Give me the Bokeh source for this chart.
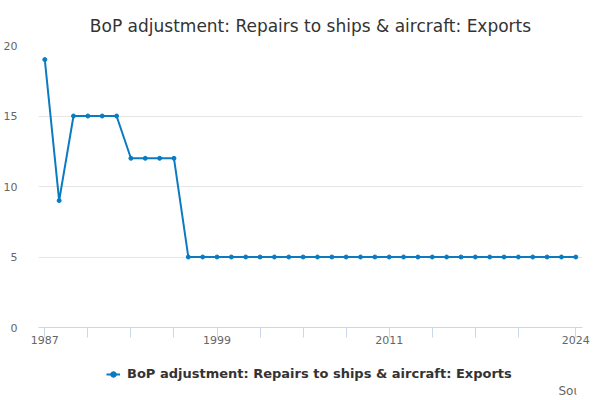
from bokeh.plotting import figure
from bokeh.models import FixedTicker, Legend, LegendItem, Range1d, Title, Label
from bokeh.layouts import column
from bokeh.embed import file_html
from bokeh.resources import INLINE

years = list(range(1987, 2025))
values = [19, 9, 15, 15, 15, 15, 12, 12, 12, 12] + [5] * 28
series_name = "BoP adjustment: Repairs to ships & aircraft: Exports"
x_ticks = [1987, 1990, 1993, 1996, 1999, 2002, 2005, 2008, 2011, 2014, 2017, 2020, 2024]
x_labels = {1987: "1987", 1999: "1999", 2011: "2011", 2024: "2024"}
y_ticks = [0, 5, 10, 15, 20]
source_text = "Source:"

FONT = "DejaVu Sans"
COLOR = "#0a7bc1"

p = figure(frame_width=544, frame_height=282, output_backend="svg", toolbar_location=None,
           x_range=Range1d(1986.561, 2024.467), y_range=Range1d(0, 20),
           min_border_left=32, min_border_right=8, min_border_top=45, min_border_bottom=25)
p.outline_line_color = None
p.background_fill_color = "white"
p.border_fill_color = "white"

p.title = Title(text=series_name, align="center", vertical_align="top",
                text_font=FONT, text_font_size="17px", text_font_style="normal",
                text_color="#333333", offset=-9, standoff=16)

r_line = p.line(years, values, line_color=COLOR, line_width=2)
r_pts = p.scatter(years, values, size=4, fill_color=COLOR, line_color=COLOR)

xa = p.xaxis[0]
xa.ticker = FixedTicker(ticks=x_ticks)
xa.major_label_overrides = {t: x_labels.get(t, "") for t in x_ticks}
xa.axis_line_color = "#ccd6eb"
xa.major_tick_line_color = "#ccd6eb"
xa.major_tick_out = 10
xa.major_tick_in = 0
xa.minor_tick_line_color = None
xa.major_label_standoff = -2
xa.major_label_text_font = FONT
xa.major_label_text_font_size = "11px"
xa.major_label_text_color = "#666666"

ya = p.yaxis[0]
ya.ticker = FixedTicker(ticks=y_ticks)
ya.axis_line_color = None
ya.major_tick_line_color = None
ya.minor_tick_line_color = None
ya.major_label_standoff = 15
ya.major_label_text_font = FONT
ya.major_label_text_font_size = "11px"
ya.major_label_text_color = "#666666"

p.xgrid.grid_line_color = None
p.ygrid.ticker = FixedTicker(ticks=y_ticks)
p.ygrid.grid_line_color = "#e6e6e6"

# legend / source strip (series drawn out of view; only its legend entry shows)
q = figure(width=584, height=48, output_backend="svg", toolbar_location=None,
           x_range=Range1d(0, 1), y_range=Range1d(0, 1),
           x_axis_location=None, y_axis_location=None,
           min_border_left=0, min_border_right=0, min_border_top=0, min_border_bottom=0)
q.grid.visible = False
q.outline_line_color = None
q.border_fill_color = "white"
ql = q.line(years, values, line_color=COLOR, line_width=2)
qs = q.scatter(years, values, size=4, fill_color=COLOR, line_color=COLOR)
legend = Legend(items=[LegendItem(label=series_name, renderers=[ql, qs])],
                location=(68, 19), orientation="horizontal",
                label_text_font=FONT, label_text_font_size="13px", label_text_font_style="bold",
                label_text_color="#333333", glyph_width=14, glyph_height=14,
                label_standoff=7, padding=0, margin=0, border_line_color=None,
                background_fill_alpha=0)
q.add_layout(legend)
q.add_layout(Label(x=520, y=10, x_units="screen", y_units="screen", text=source_text,
                   text_align="left", text_baseline="middle", text_font=FONT,
                   text_font_size="12px", text_color="#666666"))

layout = column(p, q, spacing=0)
open("out.html", "w").write(file_html(layout, INLINE))
